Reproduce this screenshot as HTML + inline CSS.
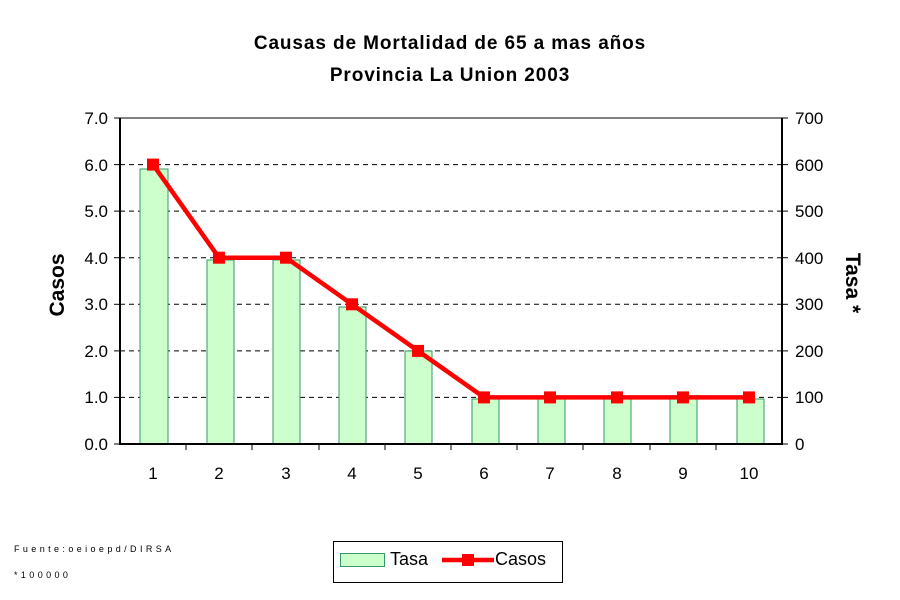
<!DOCTYPE html>
<html><head><meta charset="utf-8"><style>body{margin:0;background:#fff}svg{display:block}text{font-family:"Liberation Sans",Arial,sans-serif}</style></head><body>
<svg width="900" height="600" viewBox="0 0 900 600">
<text x="450" y="49" font-size="19" font-weight="bold" text-anchor="middle" letter-spacing="0.9">Causas de Mortalidad de 65 a mas años</text>
<text x="450" y="81" font-size="19" font-weight="bold" text-anchor="middle" letter-spacing="0.9">Provincia La Union 2003</text>
<line x1="120" y1="118" x2="782" y2="118" stroke="#808080" stroke-width="2"/>
<g stroke="#000" stroke-dasharray="5,4" stroke-width="1">
<line x1="120" y1="164.6" x2="782" y2="164.6"/><line x1="120" y1="211.1" x2="782" y2="211.1"/><line x1="120" y1="257.7" x2="782" y2="257.7"/><line x1="120" y1="304.3" x2="782" y2="304.3"/><line x1="120" y1="350.9" x2="782" y2="350.9"/><line x1="120" y1="397.4" x2="782" y2="397.4"/>
</g>
<g fill="#ccffcc" stroke="#339966" stroke-width="1">
<rect x="140" y="169" width="28" height="275"/>
<rect x="207" y="260" width="27" height="184"/>
<rect x="273" y="260" width="27" height="184"/>
<rect x="339" y="307" width="27" height="137"/>
<rect x="405" y="351" width="27" height="93"/>
<rect x="472" y="399" width="27" height="45"/>
<rect x="538" y="399" width="27" height="45"/>
<rect x="604" y="399" width="27" height="45"/>
<rect x="670" y="399" width="27" height="45"/>
<rect x="737" y="399" width="27" height="45"/>
</g>
<g stroke="#000" stroke-width="2"><line x1="120" y1="118" x2="120" y2="445"/><line x1="782" y1="118" x2="782" y2="445"/><line x1="119" y1="444" x2="783" y2="444"/></g>
<g stroke="#000" stroke-width="1">
<line x1="114" y1="118" x2="120" y2="118"/><line x1="114" y1="164.6" x2="120" y2="164.6"/><line x1="114" y1="211.1" x2="120" y2="211.1"/><line x1="114" y1="257.7" x2="120" y2="257.7"/><line x1="114" y1="304.3" x2="120" y2="304.3"/><line x1="114" y1="350.9" x2="120" y2="350.9"/><line x1="114" y1="397.4" x2="120" y2="397.4"/><line x1="114" y1="444" x2="120" y2="444"/>
<line x1="782" y1="118" x2="788" y2="118"/><line x1="782" y1="164.6" x2="788" y2="164.6"/><line x1="782" y1="211.1" x2="788" y2="211.1"/><line x1="782" y1="257.7" x2="788" y2="257.7"/><line x1="782" y1="304.3" x2="788" y2="304.3"/><line x1="782" y1="350.9" x2="788" y2="350.9"/><line x1="782" y1="397.4" x2="788" y2="397.4"/><line x1="782" y1="444" x2="788" y2="444"/>
<line x1="186" y1="444" x2="186" y2="450"/><line x1="252" y1="444" x2="252" y2="450"/><line x1="319" y1="444" x2="319" y2="450"/><line x1="385" y1="444" x2="385" y2="450"/><line x1="451" y1="444" x2="451" y2="450"/><line x1="517" y1="444" x2="517" y2="450"/><line x1="583" y1="444" x2="583" y2="450"/><line x1="650" y1="444" x2="650" y2="450"/><line x1="716" y1="444" x2="716" y2="450"/>
</g>
<g font-size="17" text-anchor="end">
<text x="108" y="124">7.0</text><text x="108" y="171">6.0</text><text x="108" y="217">5.0</text><text x="108" y="264">4.0</text><text x="108" y="310">3.0</text><text x="108" y="357">2.0</text><text x="108" y="403">1.0</text><text x="108" y="450">0.0</text>
</g>
<g font-size="17">
<text x="795" y="124">700</text><text x="795" y="171">600</text><text x="795" y="217">500</text><text x="795" y="264">400</text><text x="795" y="310">300</text><text x="795" y="357">200</text><text x="795" y="403">100</text><text x="795" y="450">0</text>
</g>
<g font-size="17" text-anchor="middle">
<text x="153" y="479">1</text><text x="219" y="479">2</text><text x="286" y="479">3</text><text x="352" y="479">4</text><text x="418" y="479">5</text><text x="484" y="479">6</text><text x="550" y="479">7</text><text x="617" y="479">8</text><text x="683" y="479">9</text><text x="749" y="479">10</text>
</g>
<text transform="translate(64,285) rotate(-90)" font-size="21" font-weight="bold" text-anchor="middle">Casos</text>
<text transform="translate(846,283) rotate(90)" font-size="21" font-weight="bold" text-anchor="middle">Tasa *</text>
<polyline points="153,164.6 219,257.7 286,257.7 352,304.3 418,350.9 484,397.4 550,397.4 617,397.4 683,397.4 749,397.4" fill="none" stroke="#ff0000" stroke-width="4.5" stroke-linejoin="round"/>
<g fill="#ff0000">
<rect x="147" y="158.6" width="12" height="12"/><rect x="213" y="251.7" width="12" height="12"/><rect x="280" y="251.7" width="12" height="12"/><rect x="346" y="298.3" width="12" height="12"/><rect x="412" y="344.9" width="12" height="12"/><rect x="478" y="391.4" width="12" height="12"/><rect x="544" y="391.4" width="12" height="12"/><rect x="611" y="391.4" width="12" height="12"/><rect x="677" y="391.4" width="12" height="12"/><rect x="743" y="391.4" width="12" height="12"/>
</g>
<text x="14" y="552" font-size="9" letter-spacing="3.4">Fuente:oeioepd/DIRSA</text>
<text x="14" y="578" font-size="9" letter-spacing="3.4">*100000</text>
<rect x="333.5" y="541.5" width="229" height="41" fill="#fff" stroke="#000" stroke-width="1"/>
<rect x="340.5" y="553.5" width="44" height="13" fill="#ccffcc" stroke="#339966"/>
<text x="390" y="565" font-size="18">Tasa</text>
<line x1="442" y1="560" x2="494" y2="560" stroke="#ff0000" stroke-width="4.5"/>
<rect x="462" y="554" width="12" height="12" fill="#ff0000"/>
<text x="495" y="565" font-size="18">Casos</text>
</svg>
</body></html>
